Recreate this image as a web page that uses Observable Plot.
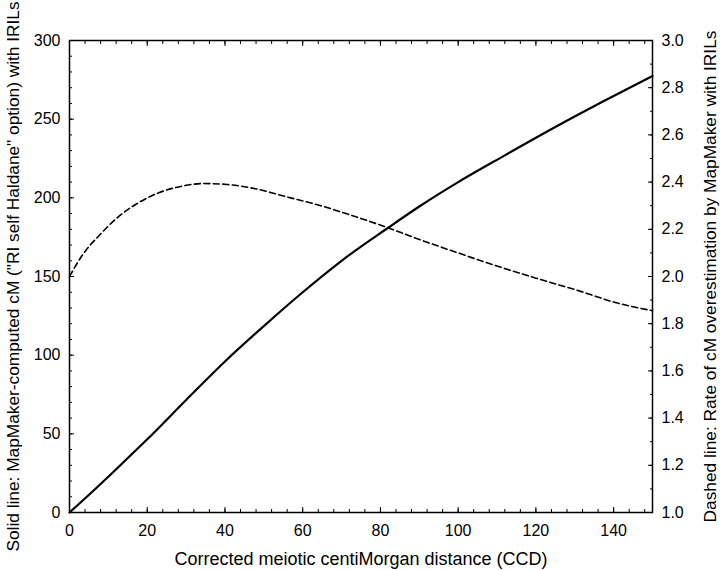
<!DOCTYPE html>
<html><head><meta charset="utf-8">
<script src="https://cdn.jsdelivr.net/npm/d3@7"></script>
<script src="https://cdn.jsdelivr.net/npm/@observablehq/plot@0.6"></script>
<style>
html,body{margin:0;padding:0;background:#fff;}
</style>
</head><body><div id="chart"></div>
<script>
// Solid line: MapMaker-computed cM vs CCD (left axis)
const solidX = [0, 6, 12, 20, 30, 40, 50, 60, 70, 82, 90, 100, 112, 125, 137.5, 150];
const solidY = [0, 13.5, 27.5, 46.5, 71.5, 96, 118.5, 140, 160, 181, 194.5, 210, 227, 245, 261.5, 277.5];

// Dashed line: rate of overestimation (right axis)
const dashedX = [0, 3.5, 8, 12, 17, 23, 29, 34.5, 40.5, 47.5, 56, 64, 72, 81, 90, 100.5, 108, 120, 131.5, 140, 150];
const dashedR = [2.00, 2.095, 2.18, 2.245, 2.305, 2.355, 2.383, 2.394, 2.39, 2.373, 2.337, 2.303, 2.262, 2.212, 2.157, 2.097, 2.055, 1.993, 1.937, 1.892, 1.855];

const xTicks = [0, 20, 40, 60, 80, 100, 120, 140];
const yLeftTicks = [0, 50, 100, 150, 200, 250, 300];
const yRightTicks = [1.0, 1.2, 1.4, 1.6, 1.8, 2.0, 2.2, 2.4, 2.6, 2.8, 3.0];

const xLabel = "Corrected meiotic centiMorgan distance (CCD)";
const yLeftLabel = "Solid line: MapMaker-computed cM (\"RI self Haldane\" option) with IRILs";
const yRightLabel = "Dashed line: Rate of cM overestimation by MapMaker with IRILs";

// right axis 1.0–3.0 shares the left 0–300 scale
const toLeft = r => (r - 1) * 150;

const solid = solidX.map((x, i) => ({x, y: solidY[i]}));
const dashed = dashedX.map((x, i) => ({x, r: dashedR[i]}));

const xMinor = d3.range(0, 151, 4);
const yLeftMinor = d3.range(0, 301, 10);
const yRightMinor = d3.range(10, 31, 1).map(v => toLeft(v / 10));

const font = "'Liberation Sans', Arial, Helvetica, sans-serif";
const blank = () => "";

const chart = Plot.plot({
  width: 720, height: 570,
  marginLeft: 69, marginRight: 68, marginTop: 40, marginBottom: 58,
  style: {fontFamily: font, fontSize: "16px", color: "#000", background: "#fff", overflow: "visible"},
  x: {domain: [0, 150]},
  y: {domain: [0, 300]},
  marks: [
    Plot.axisX({anchor: "bottom", ticks: xMinor, tickSize: -3, tickFormat: blank, label: null}),
    Plot.axisX({anchor: "bottom", ticks: xTicks, tickSize: -5, tickFormat: blank, label: null}),
    Plot.axisX({anchor: "top", ticks: xMinor, tickSize: -3, tickFormat: blank, label: null}),
    Plot.axisX({anchor: "top", ticks: xTicks, tickSize: -5, tickFormat: blank, label: null}),
    Plot.axisY({anchor: "left", ticks: yLeftMinor, tickSize: -3, tickFormat: blank, label: null}),
    Plot.axisY({anchor: "left", ticks: yLeftTicks, tickSize: -5, tickFormat: blank, label: null}),
    Plot.axisY({anchor: "right", ticks: yRightMinor, tickSize: -3, tickFormat: blank, label: null}),
    Plot.axisY({anchor: "right", ticks: yRightTicks.map(toLeft), tickSize: -5, tickFormat: blank, label: null}),
    Plot.axisX({anchor: "bottom", ticks: xTicks, tickSize: 0, tickPadding: 12, label: null}),
    Plot.axisY({anchor: "left", ticks: yLeftTicks, tickSize: 0, tickPadding: 9, label: null}),
    Plot.axisY({anchor: "right", ticks: yRightTicks.map(toLeft), tickSize: 0, tickPadding: 9,
      tickFormat: d => (d / 150 + 1).toFixed(1), label: null}),
    Plot.frame({stroke: "#000", strokeWidth: 1.5}),
    Plot.line(dashed, {x: "x", y: d => toLeft(d.r), stroke: "#000", strokeWidth: 1.6,
      strokeDasharray: "6,3.5", curve: "monotone-x"}),
    Plot.line(solid, {x: "x", y: "y", stroke: "#000", strokeWidth: 2.2, curve: "monotone-x"}),
    Plot.text([xLabel], {text: d => d, frameAnchor: "bottom", dy: 52, lineAnchor: "bottom", textAnchor: "middle", fontSize: 18}),
    Plot.text([yLeftLabel], {text: d => d, frameAnchor: "left", dx: -51, rotate: -90, lineAnchor: "bottom", textAnchor: "middle", fontSize: 17.3}),
    Plot.text([yRightLabel], {text: d => d, frameAnchor: "right", dx: 63, rotate: -90, lineAnchor: "bottom", textAnchor: "middle", fontSize: 17.3})
  ]
});
document.getElementById("chart").appendChild(chart);
</script>
</body></html>
